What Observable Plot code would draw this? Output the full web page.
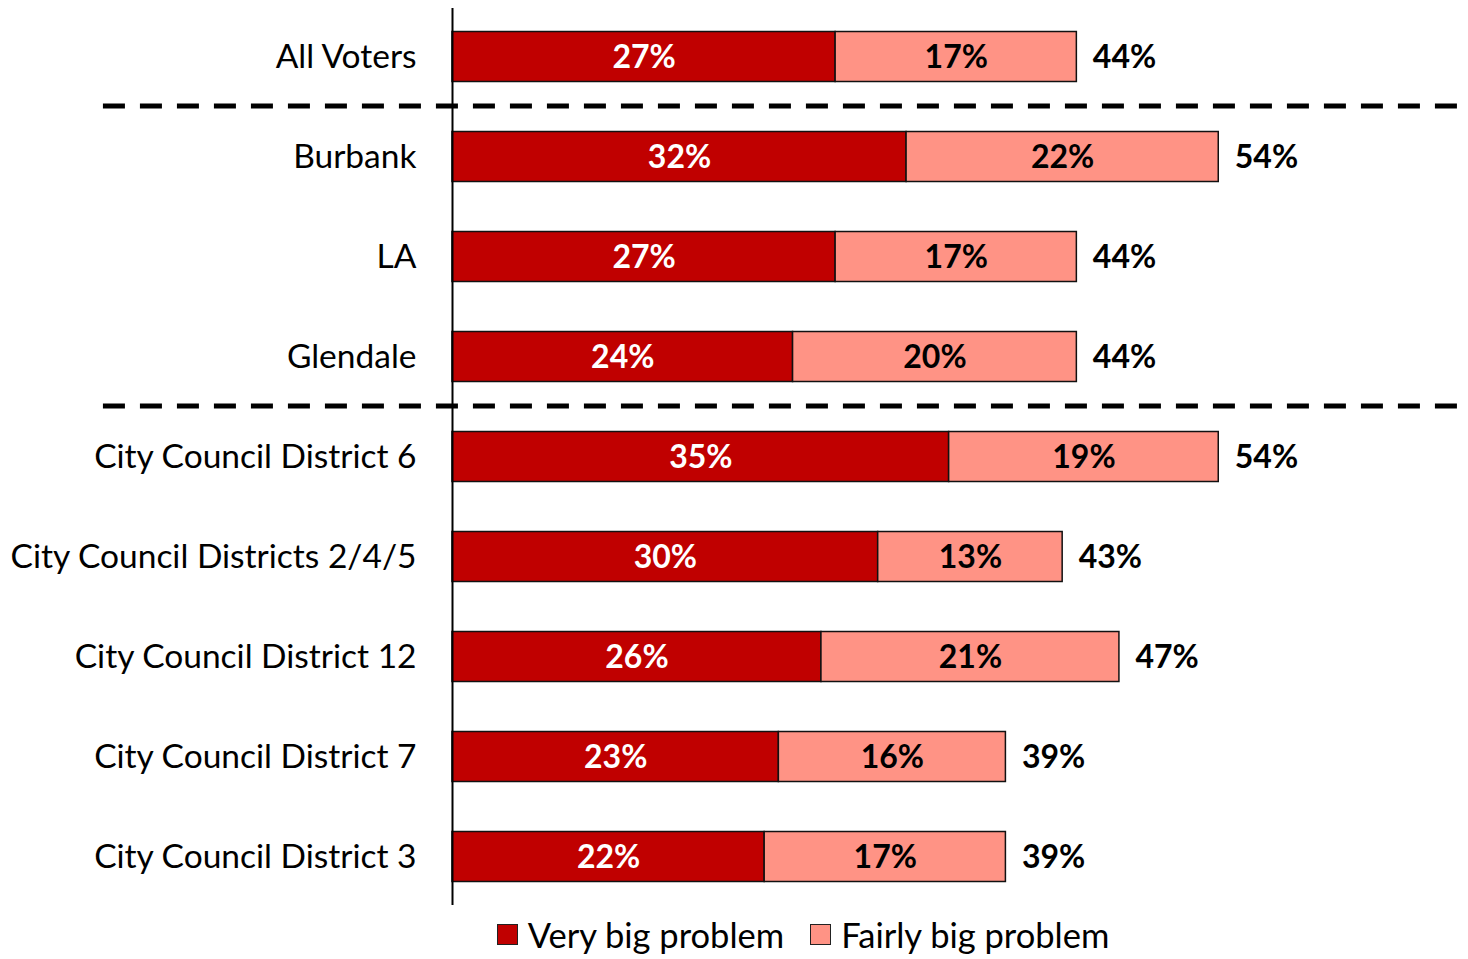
<!DOCTYPE html>
<html><head><meta charset="utf-8">
<script src="https://cdn.jsdelivr.net/npm/d3@7"></script>
<script src="https://cdn.jsdelivr.net/npm/@observablehq/plot@0.6"></script>
<style>
body{margin:0;background:#fff;font-family:Lato, "Open Sans", sans-serif;}
#legend{display:flex;justify-content:center;align-items:center;height:49px;font-size:34.5px;color:#000;padding-left:138px;gap:26px;}
.item{display:flex;align-items:center;gap:10px;}
.sw{width:21px;height:21px;border:1.5px solid #222;box-sizing:border-box;}
</style></head><body>
<div id="chart"></div>
<div id="legend"></div>
<script>
const categories = ["All Voters","Burbank","LA","Glendale","City Council District 6","City Council Districts 2/4/5","City Council District 12","City Council District 7","City Council District 3"];
const veryBig = [27,32,27,24,35,30,26,23,22];
const fairlyBig = [17,22,17,20,19,13,21,16,17];
const totals = [44,54,44,44,54,43,47,39,39];
const seriesNames = ["Very big problem","Fairly big problem"];
const colors = ["#C00000","#FF9385"];
const textColors = ["#fff","#000"];
const separatorsAfter = ["All Voters","Glendale"];

const data = [];
categories.forEach((c,i)=>{
  data.push({category:c, series:seriesNames[0], value:veryBig[i]});
  data.push({category:c, series:seriesNames[1], value:fairlyBig[i]});
});
const totalData = categories.map((c,i)=>({category:c, total:totals[i]}));

const chart = Plot.plot({
  width:1468, height:910,
  marginLeft:452, marginRight:0, marginTop:8, marginBottom:5,
  style:{fontFamily:"Lato, 'Open Sans', sans-serif", background:"#fff"},
  x:{domain:[0,71.6], axis:null},
  y:{domain:categories, paddingInner:0.5, paddingOuter:0.235, round:false, label:null},
  color:{domain:seriesNames, range:colors},
  marks:[
    Plot.barX(data, Plot.stackX({x:"value", y:"category", fill:"series", stroke:"#111", strokeWidth:1.5})),
    Plot.textX(data, Plot.stackX({x:"value", y:"category", text:d=>d.value+"%", fill:d=>textColors[seriesNames.indexOf(d.series)], fontSize:32, fontWeight:"bold", dy:1})),
    Plot.text(totalData, {x:"total", y:"category", text:d=>d.total+"%", textAnchor:"start", dx:16, dy:1, fontSize:32, fontWeight:"bold", fill:"#000"}),
    Plot.ruleY(separatorsAfter, {y:d=>d, dy:49, x1:-24.6, x2:72.5, stroke:"#000", strokeWidth:5, strokeDasharray:"22,15"}),
    Plot.ruleX([0], {stroke:"#000", strokeWidth:2}),
    Plot.axisY({tickSize:0, tickPadding:36, fontSize:33.5, color:"#000"})
  ]
});
document.getElementById("chart").appendChild(chart);

const leg = document.getElementById("legend");
seriesNames.forEach((s,i)=>{
  const it = document.createElement("div"); it.className="item";
  const sw = document.createElement("div"); sw.className="sw"; sw.style.background=colors[i];
  const t = document.createElement("span"); t.textContent=s;
  it.appendChild(sw); it.appendChild(t); leg.appendChild(it);
});
</script>
</body></html>
